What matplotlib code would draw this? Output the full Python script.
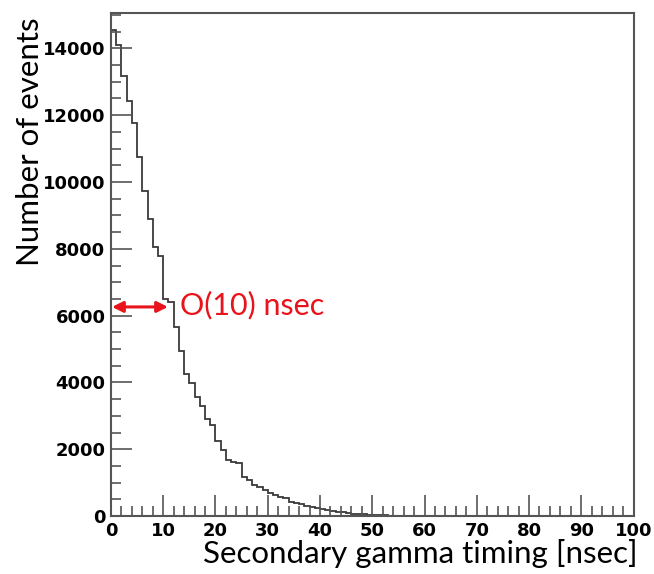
import numpy as np
import matplotlib.pyplot as plt
from matplotlib.ticker import MultipleLocator

# histogram of secondary gamma timing, 1 nsec bins from 0 to 100
bin_edges = np.arange(0, 101, 1)
counts = [14550, 14100, 13180, 12410, 11780, 10740, 9740, 8890, 8060, 7790,
          6500, 6420, 5650, 4950, 4250, 3980, 3570, 3290, 2890, 2720,
          2240, 1970, 1690, 1610, 1590, 1180, 1080, 930, 880, 780,
          680, 630, 580, 530, 430, 400, 360, 300, 260, 230,
          200, 170, 140, 130, 120, 100, 65, 60, 55, 35,
          30, 30, 25, 15, 10, 8, 5, 4, 3, 2,
          2, 1, 1, 1, 1, 1, 0, 0, 0, 0,
          0, 0, 0, 0, 0, 0, 0, 0, 0, 0,
          0, 0, 0, 0, 0, 0, 0, 0, 0, 0,
          0, 0, 0, 0, 0, 0, 0, 0, 0, 0]
x_label = 'Secondary gamma timing [nsec]'
y_label = 'Number of events'
note = 'O(10) nsec'
arrow_y = 6260
arrow_x = (0.2, 10.9)

fig = plt.figure(figsize=(6.54, 5.74), dpi=100)
ax = fig.add_axes([0.1697, 0.1010, 0.799, 0.8758])

ax.stairs(counts, bin_edges, color='#3a3a3a', linewidth=1.3)
ax.set_xlim(0, 100)
ax.set_ylim(0, 15050)

for s in ax.spines.values():
    s.set_color('#555555')
    s.set_linewidth(1.5)

ax.xaxis.set_major_locator(MultipleLocator(10))
ax.xaxis.set_minor_locator(MultipleLocator(2))
ax.yaxis.set_major_locator(MultipleLocator(2000))
ax.yaxis.set_minor_locator(MultipleLocator(500))
ax.tick_params(which='both', direction='in', top=False, right=False, color='#555555', width=1.2)
ax.tick_params(which='major', length=15, pad=4)
ax.tick_params(which='minor', length=7.5)
for lab in ax.get_xticklabels() + ax.get_yticklabels():
    lab.set_fontfamily('DejaVu Sans')
    lab.set_fontweight('bold')
    lab.set_fontsize(13)

# red double arrow and note
ax.annotate('', xy=(arrow_x[0], arrow_y), xytext=(arrow_x[1], arrow_y),
            arrowprops=dict(arrowstyle='<|-|>', color='#e8131b', lw=2.2, mutation_scale=16,
                            shrinkA=0, shrinkB=0))
ax.text(13.2, 6320, note, color='#e8131b', fontsize=22, family='Lato', ha='left', va='center')

fig.text(30 / 654, 1 - 142 / 574, y_label, rotation=90, ha='center', va='center',
         fontsize=22.5, family='Lato')
fig.text(420 / 654, 1 - 554 / 574, x_label, ha='center', va='center',
         fontsize=22.5, family='Lato')

fig.savefig('out.png', dpi=100)
